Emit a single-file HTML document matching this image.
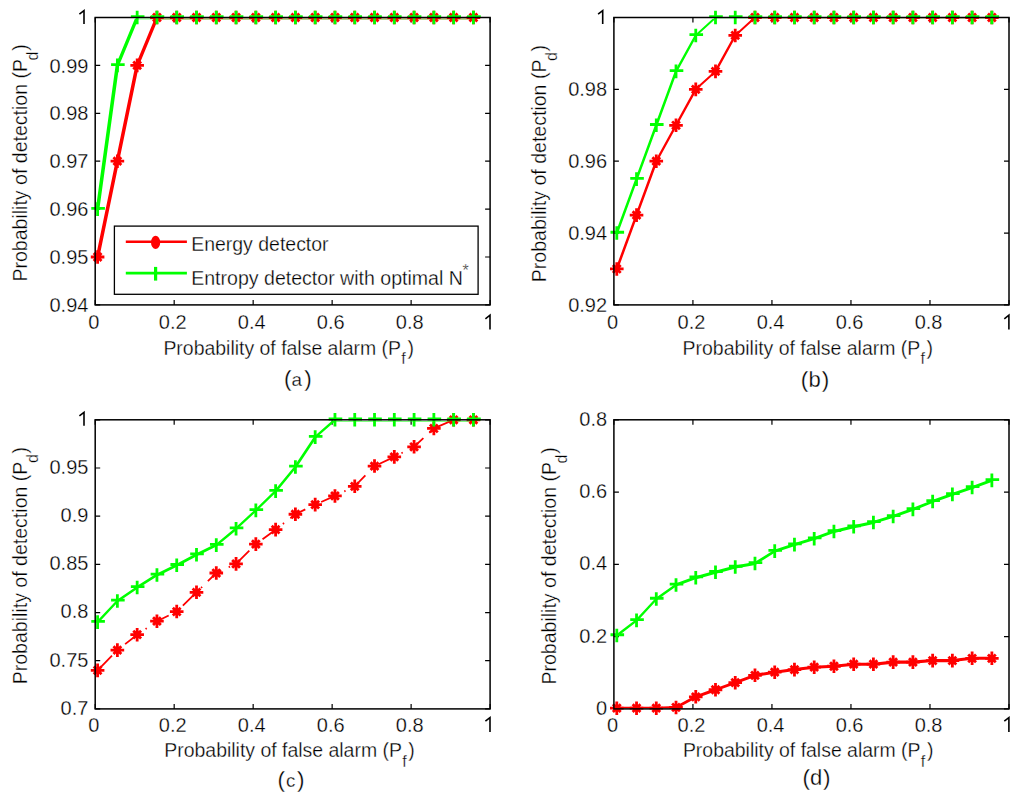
<!DOCTYPE html><html><head><meta charset="utf-8"><title>Detection curves</title>
<style>html,body{margin:0;padding:0;background:#fff;}svg{display:block;}text{font-family:"Liberation Sans",sans-serif;fill:#000;stroke:#fff;stroke-width:0.3px;}</style>
</head><body>
<svg width="1024" height="799" viewBox="0 0 1024 799">
<rect x="0" y="0" width="1024" height="799" fill="#fff"/>
<path d="M95.2 304.9v-5M95.2 17.5v5M174.18 304.9v-5M174.18 17.5v5M253.16 304.9v-5M253.16 17.5v5M332.14 304.9v-5M332.14 17.5v5M411.12 304.9v-5M411.12 17.5v5M490.1 304.9v-5M490.1 17.5v5M95.2 304.9h5M490.1 304.9h-5M95.2 257h5M490.1 257h-5M95.2 209.1h5M490.1 209.1h-5M95.2 161.2h5M490.1 161.2h-5M95.2 113.3h5M490.1 113.3h-5M95.2 65.4h5M490.1 65.4h-5M95.2 17.5h5M490.1 17.5h-5" stroke="#000000" stroke-width="1.2" fill="none"/>
<clipPath id="clipa"><rect x="95.95" y="18.8" width="393.4" height="285.35"/></clipPath>
<g clip-path="url(#clipa)">
<g stroke="#ff0000" stroke-linecap="round"><line x1="97.6" y1="257" x2="117.38" y2="161.2" stroke-width="3.53"/><line x1="117.38" y1="161.2" x2="137.16" y2="65.4" stroke-width="3.53"/><line x1="137.16" y1="65.4" x2="156.94" y2="17.5" stroke-width="3.33"/><line x1="156.94" y1="17.5" x2="176.72" y2="17.5" stroke-width="3.60"/><line x1="176.72" y1="17.5" x2="196.5" y2="17.5" stroke-width="3.60"/><line x1="196.5" y1="17.5" x2="216.28" y2="17.5" stroke-width="3.60"/><line x1="216.28" y1="17.5" x2="236.06" y2="17.5" stroke-width="3.60"/><line x1="236.06" y1="17.5" x2="255.84" y2="17.5" stroke-width="3.60"/><line x1="255.84" y1="17.5" x2="275.62" y2="17.5" stroke-width="3.60"/><line x1="275.62" y1="17.5" x2="295.4" y2="17.5" stroke-width="3.60"/><line x1="295.4" y1="17.5" x2="315.18" y2="17.5" stroke-width="3.60"/><line x1="315.18" y1="17.5" x2="334.96" y2="17.5" stroke-width="3.60"/><line x1="334.96" y1="17.5" x2="354.74" y2="17.5" stroke-width="3.60"/><line x1="354.74" y1="17.5" x2="374.52" y2="17.5" stroke-width="3.60"/><line x1="374.52" y1="17.5" x2="394.3" y2="17.5" stroke-width="3.60"/><line x1="394.3" y1="17.5" x2="414.08" y2="17.5" stroke-width="3.60"/><line x1="414.08" y1="17.5" x2="433.86" y2="17.5" stroke-width="3.60"/><line x1="433.86" y1="17.5" x2="453.64" y2="17.5" stroke-width="3.60"/><line x1="453.64" y1="17.5" x2="473.42" y2="17.5" stroke-width="3.60"/></g>
<g stroke="#00ff00" stroke-linecap="round"><line x1="97.6" y1="209.1" x2="117.38" y2="65.4" stroke-width="3.57"/><line x1="117.38" y1="65.4" x2="137.16" y2="17.5" stroke-width="3.33"/><line x1="137.16" y1="17.5" x2="156.94" y2="17.5" stroke-width="3.60"/><line x1="156.94" y1="17.5" x2="176.72" y2="17.5" stroke-width="3.60"/><line x1="176.72" y1="17.5" x2="196.5" y2="17.5" stroke-width="3.60"/><line x1="196.5" y1="17.5" x2="216.28" y2="17.5" stroke-width="3.60"/><line x1="216.28" y1="17.5" x2="236.06" y2="17.5" stroke-width="3.60"/><line x1="236.06" y1="17.5" x2="255.84" y2="17.5" stroke-width="3.60"/><line x1="255.84" y1="17.5" x2="275.62" y2="17.5" stroke-width="3.60"/><line x1="275.62" y1="17.5" x2="295.4" y2="17.5" stroke-width="3.60"/><line x1="295.4" y1="17.5" x2="315.18" y2="17.5" stroke-width="3.60"/><line x1="315.18" y1="17.5" x2="334.96" y2="17.5" stroke-width="3.60"/><line x1="334.96" y1="17.5" x2="354.74" y2="17.5" stroke-width="3.60"/><line x1="354.74" y1="17.5" x2="374.52" y2="17.5" stroke-width="3.60"/><line x1="374.52" y1="17.5" x2="394.3" y2="17.5" stroke-width="3.60"/><line x1="394.3" y1="17.5" x2="414.08" y2="17.5" stroke-width="3.60"/><line x1="414.08" y1="17.5" x2="433.86" y2="17.5" stroke-width="3.60"/><line x1="433.86" y1="17.5" x2="453.64" y2="17.5" stroke-width="3.60"/><line x1="453.64" y1="17.5" x2="473.42" y2="17.5" stroke-width="3.60"/></g>
</g>
<path d="M90.8 257H104.4M97.6 250.2V263.8M93.7 253.1L101.5 260.9M93.7 260.9L101.5 253.1" stroke="#ff0000" stroke-width="2.8" fill="none"/><rect x="94.8" y="254.2" width="5.6" height="5.6" fill="#ff0000"/>
<path d="M110.58 161.2H124.18M117.38 154.4V168M113.48 157.3L121.28 165.1M113.48 165.1L121.28 157.3" stroke="#ff0000" stroke-width="2.8" fill="none"/><rect x="114.58" y="158.4" width="5.6" height="5.6" fill="#ff0000"/>
<path d="M130.36 65.4H143.96M137.16 58.6V72.2M133.26 61.5L141.06 69.3M133.26 69.3L141.06 61.5" stroke="#ff0000" stroke-width="2.8" fill="none"/><rect x="134.36" y="62.6" width="5.6" height="5.6" fill="#ff0000"/>
<path d="M150.14 17.5H163.74M156.94 10.7V24.3M153.04 13.6L160.84 21.4M153.04 21.4L160.84 13.6" stroke="#ff0000" stroke-width="2.8" fill="none"/><rect x="154.14" y="14.7" width="5.6" height="5.6" fill="#ff0000"/>
<path d="M169.92 17.5H183.52M176.72 10.7V24.3M172.82 13.6L180.62 21.4M172.82 21.4L180.62 13.6" stroke="#ff0000" stroke-width="2.8" fill="none"/><rect x="173.92" y="14.7" width="5.6" height="5.6" fill="#ff0000"/>
<path d="M189.7 17.5H203.3M196.5 10.7V24.3M192.6 13.6L200.4 21.4M192.6 21.4L200.4 13.6" stroke="#ff0000" stroke-width="2.8" fill="none"/><rect x="193.7" y="14.7" width="5.6" height="5.6" fill="#ff0000"/>
<path d="M209.48 17.5H223.08M216.28 10.7V24.3M212.38 13.6L220.18 21.4M212.38 21.4L220.18 13.6" stroke="#ff0000" stroke-width="2.8" fill="none"/><rect x="213.48" y="14.7" width="5.6" height="5.6" fill="#ff0000"/>
<path d="M229.26 17.5H242.86M236.06 10.7V24.3M232.16 13.6L239.96 21.4M232.16 21.4L239.96 13.6" stroke="#ff0000" stroke-width="2.8" fill="none"/><rect x="233.26" y="14.7" width="5.6" height="5.6" fill="#ff0000"/>
<path d="M249.04 17.5H262.64M255.84 10.7V24.3M251.94 13.6L259.74 21.4M251.94 21.4L259.74 13.6" stroke="#ff0000" stroke-width="2.8" fill="none"/><rect x="253.04" y="14.7" width="5.6" height="5.6" fill="#ff0000"/>
<path d="M268.82 17.5H282.42M275.62 10.7V24.3M271.72 13.6L279.52 21.4M271.72 21.4L279.52 13.6" stroke="#ff0000" stroke-width="2.8" fill="none"/><rect x="272.82" y="14.7" width="5.6" height="5.6" fill="#ff0000"/>
<path d="M288.6 17.5H302.2M295.4 10.7V24.3M291.5 13.6L299.3 21.4M291.5 21.4L299.3 13.6" stroke="#ff0000" stroke-width="2.8" fill="none"/><rect x="292.6" y="14.7" width="5.6" height="5.6" fill="#ff0000"/>
<path d="M308.38 17.5H321.98M315.18 10.7V24.3M311.28 13.6L319.08 21.4M311.28 21.4L319.08 13.6" stroke="#ff0000" stroke-width="2.8" fill="none"/><rect x="312.38" y="14.7" width="5.6" height="5.6" fill="#ff0000"/>
<path d="M328.16 17.5H341.76M334.96 10.7V24.3M331.06 13.6L338.86 21.4M331.06 21.4L338.86 13.6" stroke="#ff0000" stroke-width="2.8" fill="none"/><rect x="332.16" y="14.7" width="5.6" height="5.6" fill="#ff0000"/>
<path d="M347.94 17.5H361.54M354.74 10.7V24.3M350.84 13.6L358.64 21.4M350.84 21.4L358.64 13.6" stroke="#ff0000" stroke-width="2.8" fill="none"/><rect x="351.94" y="14.7" width="5.6" height="5.6" fill="#ff0000"/>
<path d="M367.72 17.5H381.32M374.52 10.7V24.3M370.62 13.6L378.42 21.4M370.62 21.4L378.42 13.6" stroke="#ff0000" stroke-width="2.8" fill="none"/><rect x="371.72" y="14.7" width="5.6" height="5.6" fill="#ff0000"/>
<path d="M387.5 17.5H401.1M394.3 10.7V24.3M390.4 13.6L398.2 21.4M390.4 21.4L398.2 13.6" stroke="#ff0000" stroke-width="2.8" fill="none"/><rect x="391.5" y="14.7" width="5.6" height="5.6" fill="#ff0000"/>
<path d="M407.28 17.5H420.88M414.08 10.7V24.3M410.18 13.6L417.98 21.4M410.18 21.4L417.98 13.6" stroke="#ff0000" stroke-width="2.8" fill="none"/><rect x="411.28" y="14.7" width="5.6" height="5.6" fill="#ff0000"/>
<path d="M427.06 17.5H440.66M433.86 10.7V24.3M429.96 13.6L437.76 21.4M429.96 21.4L437.76 13.6" stroke="#ff0000" stroke-width="2.8" fill="none"/><rect x="431.06" y="14.7" width="5.6" height="5.6" fill="#ff0000"/>
<path d="M446.84 17.5H460.44M453.64 10.7V24.3M449.74 13.6L457.54 21.4M449.74 21.4L457.54 13.6" stroke="#ff0000" stroke-width="2.8" fill="none"/><rect x="450.84" y="14.7" width="5.6" height="5.6" fill="#ff0000"/>
<path d="M466.62 17.5H480.22M473.42 10.7V24.3M469.52 13.6L477.32 21.4M469.52 21.4L477.32 13.6" stroke="#ff0000" stroke-width="2.8" fill="none"/><rect x="470.62" y="14.7" width="5.6" height="5.6" fill="#ff0000"/>
<path d="M91.3 208.3H104.9M97.6 202.3V215.9" stroke="#00ff00" stroke-width="2.8" fill="none"/>
<path d="M111.08 64.6H124.68M117.38 58.6V72.2" stroke="#00ff00" stroke-width="2.8" fill="none"/>
<path d="M130.86 16.7H144.46M137.16 10.7V24.3" stroke="#00ff00" stroke-width="2.8" fill="none"/>
<path d="M150.64 16.7H164.24M156.94 10.7V24.3" stroke="#00ff00" stroke-width="2.8" fill="none"/>
<path d="M170.42 16.7H184.02M176.72 10.7V24.3" stroke="#00ff00" stroke-width="2.8" fill="none"/>
<path d="M190.2 16.7H203.8M196.5 10.7V24.3" stroke="#00ff00" stroke-width="2.8" fill="none"/>
<path d="M209.98 16.7H223.58M216.28 10.7V24.3" stroke="#00ff00" stroke-width="2.8" fill="none"/>
<path d="M229.76 16.7H243.36M236.06 10.7V24.3" stroke="#00ff00" stroke-width="2.8" fill="none"/>
<path d="M249.54 16.7H263.14M255.84 10.7V24.3" stroke="#00ff00" stroke-width="2.8" fill="none"/>
<path d="M269.32 16.7H282.92M275.62 10.7V24.3" stroke="#00ff00" stroke-width="2.8" fill="none"/>
<path d="M289.1 16.7H302.7M295.4 10.7V24.3" stroke="#00ff00" stroke-width="2.8" fill="none"/>
<path d="M308.88 16.7H322.48M315.18 10.7V24.3" stroke="#00ff00" stroke-width="2.8" fill="none"/>
<path d="M328.66 16.7H342.26M334.96 10.7V24.3" stroke="#00ff00" stroke-width="2.8" fill="none"/>
<path d="M348.44 16.7H362.04M354.74 10.7V24.3" stroke="#00ff00" stroke-width="2.8" fill="none"/>
<path d="M368.22 16.7H381.82M374.52 10.7V24.3" stroke="#00ff00" stroke-width="2.8" fill="none"/>
<path d="M388 16.7H401.6M394.3 10.7V24.3" stroke="#00ff00" stroke-width="2.8" fill="none"/>
<path d="M407.78 16.7H421.38M414.08 10.7V24.3" stroke="#00ff00" stroke-width="2.8" fill="none"/>
<path d="M427.56 16.7H441.16M433.86 10.7V24.3" stroke="#00ff00" stroke-width="2.8" fill="none"/>
<path d="M447.34 16.7H460.94M453.64 10.7V24.3" stroke="#00ff00" stroke-width="2.8" fill="none"/>
<path d="M467.12 16.7H480.72M473.42 10.7V24.3" stroke="#00ff00" stroke-width="2.8" fill="none"/>
<rect x="95.2" y="17.5" width="394.9" height="287.4" fill="none" stroke="#000000" stroke-width="1.5"/>
<text x="88.4" y="312" font-size="20" text-anchor="end">0.94</text>
<text x="88.4" y="264.1" font-size="20" text-anchor="end">0.95</text>
<text x="88.4" y="216.2" font-size="20" text-anchor="end">0.96</text>
<text x="88.4" y="168.3" font-size="20" text-anchor="end">0.97</text>
<text x="88.4" y="120.4" font-size="20" text-anchor="end">0.98</text>
<text x="88.4" y="72.5" font-size="20" text-anchor="end">0.99</text>
<path d="M84 24V10.6L79.4 14.2" stroke="#000" stroke-width="1.6" fill="none" stroke-linejoin="miter"/>
<text x="93.8" y="329.3" font-size="20" text-anchor="middle">0</text>
<text x="172.78" y="329.3" font-size="20" text-anchor="middle">0.2</text>
<text x="251.76" y="329.3" font-size="20" text-anchor="middle">0.4</text>
<text x="330.74" y="329.3" font-size="20" text-anchor="middle">0.6</text>
<text x="409.72" y="329.3" font-size="20" text-anchor="middle">0.8</text>
<path d="M490 329.6V315.2L485.4 318.8" stroke="#000" stroke-width="1.6" fill="none" stroke-linejoin="miter"/>
<path d="M613.9 304.9v-5M613.9 17.5v5M692.92 304.9v-5M692.92 17.5v5M771.94 304.9v-5M771.94 17.5v5M850.96 304.9v-5M850.96 17.5v5M929.98 304.9v-5M929.98 17.5v5M1009 304.9v-5M1009 17.5v5M613.9 304.9h5M1009 304.9h-5M613.9 233.05h5M1009 233.05h-5M613.9 161.2h5M1009 161.2h-5M613.9 89.35h5M1009 89.35h-5M613.9 17.5h5M1009 17.5h-5" stroke="#000000" stroke-width="1.2" fill="none"/>
<clipPath id="clipb"><rect x="614.65" y="18.8" width="393.6" height="285.35"/></clipPath>
<g clip-path="url(#clipb)">
<g stroke="#ff0000" stroke-linecap="round"><line x1="616.8" y1="268.97" x2="636.54" y2="215.09" stroke-width="2.54"/><line x1="636.54" y1="215.09" x2="656.28" y2="161.2" stroke-width="2.54"/><line x1="656.28" y1="161.2" x2="676.02" y2="125.28" stroke-width="2.37"/><line x1="676.02" y1="125.28" x2="695.76" y2="89.35" stroke-width="2.37"/><line x1="695.76" y1="89.35" x2="715.5" y2="71.39" stroke-width="2.00"/><line x1="715.5" y1="71.39" x2="735.24" y2="35.46" stroke-width="2.37"/><line x1="735.24" y1="35.46" x2="754.98" y2="17.5" stroke-width="2.00"/><line x1="754.98" y1="17.5" x2="774.72" y2="17.5" stroke-width="2.70"/><line x1="774.72" y1="17.5" x2="794.46" y2="17.5" stroke-width="2.70"/><line x1="794.46" y1="17.5" x2="814.2" y2="17.5" stroke-width="2.70"/><line x1="814.2" y1="17.5" x2="833.94" y2="17.5" stroke-width="2.70"/><line x1="833.94" y1="17.5" x2="853.68" y2="17.5" stroke-width="2.70"/><line x1="853.68" y1="17.5" x2="873.42" y2="17.5" stroke-width="2.70"/><line x1="873.42" y1="17.5" x2="893.16" y2="17.5" stroke-width="2.70"/><line x1="893.16" y1="17.5" x2="912.9" y2="17.5" stroke-width="2.70"/><line x1="912.9" y1="17.5" x2="932.64" y2="17.5" stroke-width="2.70"/><line x1="932.64" y1="17.5" x2="952.38" y2="17.5" stroke-width="2.70"/><line x1="952.38" y1="17.5" x2="972.12" y2="17.5" stroke-width="2.70"/><line x1="972.12" y1="17.5" x2="991.86" y2="17.5" stroke-width="2.70"/></g>
<g stroke="#00ff00" stroke-linecap="round"><line x1="616.8" y1="233.05" x2="636.54" y2="179.16" stroke-width="2.54"/><line x1="636.54" y1="179.16" x2="656.28" y2="125.28" stroke-width="2.54"/><line x1="656.28" y1="125.28" x2="676.02" y2="71.39" stroke-width="2.54"/><line x1="676.02" y1="71.39" x2="695.76" y2="35.46" stroke-width="2.37"/><line x1="695.76" y1="35.46" x2="715.5" y2="17.5" stroke-width="2.00"/><line x1="715.5" y1="17.5" x2="735.24" y2="17.5" stroke-width="2.70"/><line x1="735.24" y1="17.5" x2="754.98" y2="17.5" stroke-width="2.70"/><line x1="754.98" y1="17.5" x2="774.72" y2="17.5" stroke-width="2.70"/><line x1="774.72" y1="17.5" x2="794.46" y2="17.5" stroke-width="2.70"/><line x1="794.46" y1="17.5" x2="814.2" y2="17.5" stroke-width="2.70"/><line x1="814.2" y1="17.5" x2="833.94" y2="17.5" stroke-width="2.70"/><line x1="833.94" y1="17.5" x2="853.68" y2="17.5" stroke-width="2.70"/><line x1="853.68" y1="17.5" x2="873.42" y2="17.5" stroke-width="2.70"/><line x1="873.42" y1="17.5" x2="893.16" y2="17.5" stroke-width="2.70"/><line x1="893.16" y1="17.5" x2="912.9" y2="17.5" stroke-width="2.70"/><line x1="912.9" y1="17.5" x2="932.64" y2="17.5" stroke-width="2.70"/><line x1="932.64" y1="17.5" x2="952.38" y2="17.5" stroke-width="2.70"/><line x1="952.38" y1="17.5" x2="972.12" y2="17.5" stroke-width="2.70"/><line x1="972.12" y1="17.5" x2="991.86" y2="17.5" stroke-width="2.70"/></g>
</g>
<path d="M610 268.97H623.6M616.8 262.17V275.77M612.9 265.07L620.7 272.87M612.9 272.87L620.7 265.07" stroke="#ff0000" stroke-width="2.8" fill="none"/><rect x="614" y="266.17" width="5.6" height="5.6" fill="#ff0000"/>
<path d="M629.74 215.09H643.34M636.54 208.29V221.89M632.64 211.19L640.44 218.99M632.64 218.99L640.44 211.19" stroke="#ff0000" stroke-width="2.8" fill="none"/><rect x="633.74" y="212.29" width="5.6" height="5.6" fill="#ff0000"/>
<path d="M649.48 161.2H663.08M656.28 154.4V168M652.38 157.3L660.18 165.1M652.38 165.1L660.18 157.3" stroke="#ff0000" stroke-width="2.8" fill="none"/><rect x="653.48" y="158.4" width="5.6" height="5.6" fill="#ff0000"/>
<path d="M669.22 125.28H682.82M676.02 118.48V132.08M672.12 121.38L679.92 129.18M672.12 129.18L679.92 121.38" stroke="#ff0000" stroke-width="2.8" fill="none"/><rect x="673.22" y="122.48" width="5.6" height="5.6" fill="#ff0000"/>
<path d="M688.96 89.35H702.56M695.76 82.55V96.15M691.86 85.45L699.66 93.25M691.86 93.25L699.66 85.45" stroke="#ff0000" stroke-width="2.8" fill="none"/><rect x="692.96" y="86.55" width="5.6" height="5.6" fill="#ff0000"/>
<path d="M708.7 71.39H722.3M715.5 64.59V78.19M711.6 67.49L719.4 75.29M711.6 75.29L719.4 67.49" stroke="#ff0000" stroke-width="2.8" fill="none"/><rect x="712.7" y="68.59" width="5.6" height="5.6" fill="#ff0000"/>
<path d="M728.44 35.46H742.04M735.24 28.66V42.26M731.34 31.56L739.14 39.36M731.34 39.36L739.14 31.56" stroke="#ff0000" stroke-width="2.8" fill="none"/><rect x="732.44" y="32.66" width="5.6" height="5.6" fill="#ff0000"/>
<path d="M748.18 17.5H761.78M754.98 10.7V24.3M751.08 13.6L758.88 21.4M751.08 21.4L758.88 13.6" stroke="#ff0000" stroke-width="2.8" fill="none"/><rect x="752.18" y="14.7" width="5.6" height="5.6" fill="#ff0000"/>
<path d="M767.92 17.5H781.52M774.72 10.7V24.3M770.82 13.6L778.62 21.4M770.82 21.4L778.62 13.6" stroke="#ff0000" stroke-width="2.8" fill="none"/><rect x="771.92" y="14.7" width="5.6" height="5.6" fill="#ff0000"/>
<path d="M787.66 17.5H801.26M794.46 10.7V24.3M790.56 13.6L798.36 21.4M790.56 21.4L798.36 13.6" stroke="#ff0000" stroke-width="2.8" fill="none"/><rect x="791.66" y="14.7" width="5.6" height="5.6" fill="#ff0000"/>
<path d="M807.4 17.5H821M814.2 10.7V24.3M810.3 13.6L818.1 21.4M810.3 21.4L818.1 13.6" stroke="#ff0000" stroke-width="2.8" fill="none"/><rect x="811.4" y="14.7" width="5.6" height="5.6" fill="#ff0000"/>
<path d="M827.14 17.5H840.74M833.94 10.7V24.3M830.04 13.6L837.84 21.4M830.04 21.4L837.84 13.6" stroke="#ff0000" stroke-width="2.8" fill="none"/><rect x="831.14" y="14.7" width="5.6" height="5.6" fill="#ff0000"/>
<path d="M846.88 17.5H860.48M853.68 10.7V24.3M849.78 13.6L857.58 21.4M849.78 21.4L857.58 13.6" stroke="#ff0000" stroke-width="2.8" fill="none"/><rect x="850.88" y="14.7" width="5.6" height="5.6" fill="#ff0000"/>
<path d="M866.62 17.5H880.22M873.42 10.7V24.3M869.52 13.6L877.32 21.4M869.52 21.4L877.32 13.6" stroke="#ff0000" stroke-width="2.8" fill="none"/><rect x="870.62" y="14.7" width="5.6" height="5.6" fill="#ff0000"/>
<path d="M886.36 17.5H899.96M893.16 10.7V24.3M889.26 13.6L897.06 21.4M889.26 21.4L897.06 13.6" stroke="#ff0000" stroke-width="2.8" fill="none"/><rect x="890.36" y="14.7" width="5.6" height="5.6" fill="#ff0000"/>
<path d="M906.1 17.5H919.7M912.9 10.7V24.3M909 13.6L916.8 21.4M909 21.4L916.8 13.6" stroke="#ff0000" stroke-width="2.8" fill="none"/><rect x="910.1" y="14.7" width="5.6" height="5.6" fill="#ff0000"/>
<path d="M925.84 17.5H939.44M932.64 10.7V24.3M928.74 13.6L936.54 21.4M928.74 21.4L936.54 13.6" stroke="#ff0000" stroke-width="2.8" fill="none"/><rect x="929.84" y="14.7" width="5.6" height="5.6" fill="#ff0000"/>
<path d="M945.58 17.5H959.18M952.38 10.7V24.3M948.48 13.6L956.28 21.4M948.48 21.4L956.28 13.6" stroke="#ff0000" stroke-width="2.8" fill="none"/><rect x="949.58" y="14.7" width="5.6" height="5.6" fill="#ff0000"/>
<path d="M965.32 17.5H978.92M972.12 10.7V24.3M968.22 13.6L976.02 21.4M968.22 21.4L976.02 13.6" stroke="#ff0000" stroke-width="2.8" fill="none"/><rect x="969.32" y="14.7" width="5.6" height="5.6" fill="#ff0000"/>
<path d="M985.06 17.5H998.66M991.86 10.7V24.3M987.96 13.6L995.76 21.4M987.96 21.4L995.76 13.6" stroke="#ff0000" stroke-width="2.8" fill="none"/><rect x="989.06" y="14.7" width="5.6" height="5.6" fill="#ff0000"/>
<path d="M610.5 232.25H624.1M616.8 226.25V239.85" stroke="#00ff00" stroke-width="2.8" fill="none"/>
<path d="M630.24 178.36H643.84M636.54 172.36V185.96" stroke="#00ff00" stroke-width="2.8" fill="none"/>
<path d="M649.98 124.48H663.58M656.28 118.48V132.08" stroke="#00ff00" stroke-width="2.8" fill="none"/>
<path d="M669.72 70.59H683.32M676.02 64.59V78.19" stroke="#00ff00" stroke-width="2.8" fill="none"/>
<path d="M689.46 34.66H703.06M695.76 28.66V42.26" stroke="#00ff00" stroke-width="2.8" fill="none"/>
<path d="M709.2 16.7H722.8M715.5 10.7V24.3" stroke="#00ff00" stroke-width="2.8" fill="none"/>
<path d="M728.94 16.7H742.54M735.24 10.7V24.3" stroke="#00ff00" stroke-width="2.8" fill="none"/>
<path d="M748.68 16.7H762.28M754.98 10.7V24.3" stroke="#00ff00" stroke-width="2.8" fill="none"/>
<path d="M768.42 16.7H782.02M774.72 10.7V24.3" stroke="#00ff00" stroke-width="2.8" fill="none"/>
<path d="M788.16 16.7H801.76M794.46 10.7V24.3" stroke="#00ff00" stroke-width="2.8" fill="none"/>
<path d="M807.9 16.7H821.5M814.2 10.7V24.3" stroke="#00ff00" stroke-width="2.8" fill="none"/>
<path d="M827.64 16.7H841.24M833.94 10.7V24.3" stroke="#00ff00" stroke-width="2.8" fill="none"/>
<path d="M847.38 16.7H860.98M853.68 10.7V24.3" stroke="#00ff00" stroke-width="2.8" fill="none"/>
<path d="M867.12 16.7H880.72M873.42 10.7V24.3" stroke="#00ff00" stroke-width="2.8" fill="none"/>
<path d="M886.86 16.7H900.46M893.16 10.7V24.3" stroke="#00ff00" stroke-width="2.8" fill="none"/>
<path d="M906.6 16.7H920.2M912.9 10.7V24.3" stroke="#00ff00" stroke-width="2.8" fill="none"/>
<path d="M926.34 16.7H939.94M932.64 10.7V24.3" stroke="#00ff00" stroke-width="2.8" fill="none"/>
<path d="M946.08 16.7H959.68M952.38 10.7V24.3" stroke="#00ff00" stroke-width="2.8" fill="none"/>
<path d="M965.82 16.7H979.42M972.12 10.7V24.3" stroke="#00ff00" stroke-width="2.8" fill="none"/>
<path d="M985.56 16.7H999.16M991.86 10.7V24.3" stroke="#00ff00" stroke-width="2.8" fill="none"/>
<rect x="613.9" y="17.5" width="395.1" height="287.4" fill="none" stroke="#000000" stroke-width="1.5"/>
<text x="607.1" y="312" font-size="20" text-anchor="end">0.92</text>
<text x="607.1" y="240.15" font-size="20" text-anchor="end">0.94</text>
<text x="607.1" y="168.3" font-size="20" text-anchor="end">0.96</text>
<text x="607.1" y="96.45" font-size="20" text-anchor="end">0.98</text>
<path d="M602.7 24V10.6L598.1 14.2" stroke="#000" stroke-width="1.6" fill="none" stroke-linejoin="miter"/>
<text x="612.5" y="329.3" font-size="20" text-anchor="middle">0</text>
<text x="691.52" y="329.3" font-size="20" text-anchor="middle">0.2</text>
<text x="770.54" y="329.3" font-size="20" text-anchor="middle">0.4</text>
<text x="849.56" y="329.3" font-size="20" text-anchor="middle">0.6</text>
<text x="928.58" y="329.3" font-size="20" text-anchor="middle">0.8</text>
<path d="M1008.9 329.6V315.2L1004.3 318.8" stroke="#000" stroke-width="1.6" fill="none" stroke-linejoin="miter"/>
<path d="M95.2 708.9v-5M95.2 419.8v5M174.18 708.9v-5M174.18 419.8v5M253.16 708.9v-5M253.16 419.8v5M332.14 708.9v-5M332.14 419.8v5M411.12 708.9v-5M411.12 419.8v5M490.1 708.9v-5M490.1 419.8v5M95.2 708.9h5M490.1 708.9h-5M95.2 660.72h5M490.1 660.72h-5M95.2 612.53h5M490.1 612.53h-5M95.2 564.35h5M490.1 564.35h-5M95.2 516.17h5M490.1 516.17h-5M95.2 467.98h5M490.1 467.98h-5M95.2 419.8h5M490.1 419.8h-5" stroke="#000000" stroke-width="1.2" fill="none"/>
<clipPath id="clipc"><rect x="95.95" y="421.1" width="393.4" height="287.05"/></clipPath>
<g clip-path="url(#clipc)">
<polyline points="97.6,670.35 117.38,650.12 137.16,634.7 156.94,621.21 176.72,611.57 196.5,592.3 216.28,573.02 236.06,563.87 255.84,544.11 275.62,529.66 295.4,514.24 315.18,504.6 334.96,495.93 354.74,486.29 374.52,466.06 394.3,456.9 414.08,446.78 433.86,428.47 453.64,419.8 473.42,419.8" stroke="#ff0000" stroke-width="1.8" fill="none" stroke-dasharray="17.4 8 1.5 8" stroke-dashoffset="31.7"/>
<g stroke="#00ff00" stroke-linecap="round"><line x1="97.6" y1="622.17" x2="117.38" y2="600.97" stroke-width="2.34"/><line x1="117.38" y1="600.97" x2="137.16" y2="587.48" stroke-width="2.64"/><line x1="137.16" y1="587.48" x2="156.94" y2="574.95" stroke-width="2.70"/><line x1="156.94" y1="574.95" x2="176.72" y2="565.31" stroke-width="2.88"/><line x1="176.72" y1="565.31" x2="196.5" y2="554.71" stroke-width="2.82"/><line x1="196.5" y1="554.71" x2="216.28" y2="545.08" stroke-width="2.88"/><line x1="216.28" y1="545.08" x2="236.06" y2="528.69" stroke-width="2.46"/><line x1="236.06" y1="528.69" x2="255.84" y2="510.38" stroke-width="2.35"/><line x1="255.84" y1="510.38" x2="275.62" y2="491.11" stroke-width="2.29"/><line x1="275.62" y1="491.11" x2="295.4" y2="467.02" stroke-width="2.47"/><line x1="295.4" y1="467.02" x2="315.18" y2="437.15" stroke-width="2.67"/><line x1="315.18" y1="437.15" x2="334.96" y2="419.8" stroke-width="2.41"/><line x1="334.96" y1="419.8" x2="354.74" y2="419.8" stroke-width="3.20"/><line x1="354.74" y1="419.8" x2="374.52" y2="419.8" stroke-width="3.20"/><line x1="374.52" y1="419.8" x2="394.3" y2="419.8" stroke-width="3.20"/><line x1="394.3" y1="419.8" x2="414.08" y2="419.8" stroke-width="3.20"/><line x1="414.08" y1="419.8" x2="433.86" y2="419.8" stroke-width="3.20"/><line x1="433.86" y1="419.8" x2="453.64" y2="419.8" stroke-width="3.20"/><line x1="453.64" y1="419.8" x2="473.42" y2="419.8" stroke-width="3.20"/></g>
</g>
<path d="M90.8 670.35H104.4M97.6 663.55V677.15M93.7 666.45L101.5 674.25M93.7 674.25L101.5 666.45" stroke="#ff0000" stroke-width="2.8" fill="none"/><rect x="94.8" y="667.55" width="5.6" height="5.6" fill="#ff0000"/>
<path d="M110.58 650.12H124.18M117.38 643.32V656.92M113.48 646.22L121.28 654.02M113.48 654.02L121.28 646.22" stroke="#ff0000" stroke-width="2.8" fill="none"/><rect x="114.58" y="647.32" width="5.6" height="5.6" fill="#ff0000"/>
<path d="M130.36 634.7H143.96M137.16 627.9V641.5M133.26 630.8L141.06 638.6M133.26 638.6L141.06 630.8" stroke="#ff0000" stroke-width="2.8" fill="none"/><rect x="134.36" y="631.9" width="5.6" height="5.6" fill="#ff0000"/>
<path d="M150.14 621.21H163.74M156.94 614.41V628.01M153.04 617.31L160.84 625.11M153.04 625.11L160.84 617.31" stroke="#ff0000" stroke-width="2.8" fill="none"/><rect x="154.14" y="618.41" width="5.6" height="5.6" fill="#ff0000"/>
<path d="M169.92 611.57H183.52M176.72 604.77V618.37M172.82 607.67L180.62 615.47M172.82 615.47L180.62 607.67" stroke="#ff0000" stroke-width="2.8" fill="none"/><rect x="173.92" y="608.77" width="5.6" height="5.6" fill="#ff0000"/>
<path d="M189.7 592.3H203.3M196.5 585.5V599.1M192.6 588.4L200.4 596.2M192.6 596.2L200.4 588.4" stroke="#ff0000" stroke-width="2.8" fill="none"/><rect x="193.7" y="589.5" width="5.6" height="5.6" fill="#ff0000"/>
<path d="M209.48 573.02H223.08M216.28 566.22V579.82M212.38 569.12L220.18 576.92M212.38 576.92L220.18 569.12" stroke="#ff0000" stroke-width="2.8" fill="none"/><rect x="213.48" y="570.22" width="5.6" height="5.6" fill="#ff0000"/>
<path d="M229.26 563.87H242.86M236.06 557.07V570.67M232.16 559.97L239.96 567.77M232.16 567.77L239.96 559.97" stroke="#ff0000" stroke-width="2.8" fill="none"/><rect x="233.26" y="561.07" width="5.6" height="5.6" fill="#ff0000"/>
<path d="M249.04 544.11H262.64M255.84 537.31V550.91M251.94 540.21L259.74 548.01M251.94 548.01L259.74 540.21" stroke="#ff0000" stroke-width="2.8" fill="none"/><rect x="253.04" y="541.31" width="5.6" height="5.6" fill="#ff0000"/>
<path d="M268.82 529.66H282.42M275.62 522.86V536.46M271.72 525.76L279.52 533.56M271.72 533.56L279.52 525.76" stroke="#ff0000" stroke-width="2.8" fill="none"/><rect x="272.82" y="526.86" width="5.6" height="5.6" fill="#ff0000"/>
<path d="M288.6 514.24H302.2M295.4 507.44V521.04M291.5 510.34L299.3 518.14M291.5 518.14L299.3 510.34" stroke="#ff0000" stroke-width="2.8" fill="none"/><rect x="292.6" y="511.44" width="5.6" height="5.6" fill="#ff0000"/>
<path d="M308.38 504.6H321.98M315.18 497.8V511.4M311.28 500.7L319.08 508.5M311.28 508.5L319.08 500.7" stroke="#ff0000" stroke-width="2.8" fill="none"/><rect x="312.38" y="501.8" width="5.6" height="5.6" fill="#ff0000"/>
<path d="M328.16 495.93H341.76M334.96 489.13V502.73M331.06 492.03L338.86 499.83M331.06 499.83L338.86 492.03" stroke="#ff0000" stroke-width="2.8" fill="none"/><rect x="332.16" y="493.13" width="5.6" height="5.6" fill="#ff0000"/>
<path d="M347.94 486.29H361.54M354.74 479.49V493.09M350.84 482.39L358.64 490.19M350.84 490.19L358.64 482.39" stroke="#ff0000" stroke-width="2.8" fill="none"/><rect x="351.94" y="483.49" width="5.6" height="5.6" fill="#ff0000"/>
<path d="M367.72 466.06H381.32M374.52 459.26V472.86M370.62 462.16L378.42 469.96M370.62 469.96L378.42 462.16" stroke="#ff0000" stroke-width="2.8" fill="none"/><rect x="371.72" y="463.26" width="5.6" height="5.6" fill="#ff0000"/>
<path d="M387.5 456.9H401.1M394.3 450.1V463.7M390.4 453L398.2 460.8M390.4 460.8L398.2 453" stroke="#ff0000" stroke-width="2.8" fill="none"/><rect x="391.5" y="454.1" width="5.6" height="5.6" fill="#ff0000"/>
<path d="M407.28 446.78H420.88M414.08 439.98V453.58M410.18 442.88L417.98 450.68M410.18 450.68L417.98 442.88" stroke="#ff0000" stroke-width="2.8" fill="none"/><rect x="411.28" y="443.98" width="5.6" height="5.6" fill="#ff0000"/>
<path d="M427.06 428.47H440.66M433.86 421.67V435.27M429.96 424.57L437.76 432.37M429.96 432.37L437.76 424.57" stroke="#ff0000" stroke-width="2.8" fill="none"/><rect x="431.06" y="425.67" width="5.6" height="5.6" fill="#ff0000"/>
<path d="M446.84 419.8H460.44M453.64 413V426.6M449.74 415.9L457.54 423.7M449.74 423.7L457.54 415.9" stroke="#ff0000" stroke-width="2.8" fill="none"/><rect x="450.84" y="417" width="5.6" height="5.6" fill="#ff0000"/>
<path d="M466.62 419.8H480.22M473.42 413V426.6M469.52 415.9L477.32 423.7M469.52 423.7L477.32 415.9" stroke="#ff0000" stroke-width="2.8" fill="none"/><rect x="470.62" y="417" width="5.6" height="5.6" fill="#ff0000"/>
<path d="M91.3 621.37H104.9M97.6 615.37V628.97" stroke="#00ff00" stroke-width="2.8" fill="none"/>
<path d="M111.08 600.17H124.68M117.38 594.17V607.77" stroke="#00ff00" stroke-width="2.8" fill="none"/>
<path d="M130.86 586.68H144.46M137.16 580.68V594.28" stroke="#00ff00" stroke-width="2.8" fill="none"/>
<path d="M150.64 574.15H164.24M156.94 568.15V581.75" stroke="#00ff00" stroke-width="2.8" fill="none"/>
<path d="M170.42 564.51H184.02M176.72 558.51V572.11" stroke="#00ff00" stroke-width="2.8" fill="none"/>
<path d="M190.2 553.91H203.8M196.5 547.91V561.51" stroke="#00ff00" stroke-width="2.8" fill="none"/>
<path d="M209.98 544.28H223.58M216.28 538.28V551.88" stroke="#00ff00" stroke-width="2.8" fill="none"/>
<path d="M229.76 527.89H243.36M236.06 521.89V535.49" stroke="#00ff00" stroke-width="2.8" fill="none"/>
<path d="M249.54 509.58H263.14M255.84 503.58V517.18" stroke="#00ff00" stroke-width="2.8" fill="none"/>
<path d="M269.32 490.31H282.92M275.62 484.31V497.91" stroke="#00ff00" stroke-width="2.8" fill="none"/>
<path d="M289.1 466.22H302.7M295.4 460.22V473.82" stroke="#00ff00" stroke-width="2.8" fill="none"/>
<path d="M308.88 436.35H322.48M315.18 430.35V443.95" stroke="#00ff00" stroke-width="2.8" fill="none"/>
<path d="M328.66 419H342.26M334.96 413V426.6" stroke="#00ff00" stroke-width="2.8" fill="none"/>
<path d="M348.44 419H362.04M354.74 413V426.6" stroke="#00ff00" stroke-width="2.8" fill="none"/>
<path d="M368.22 419H381.82M374.52 413V426.6" stroke="#00ff00" stroke-width="2.8" fill="none"/>
<path d="M388 419H401.6M394.3 413V426.6" stroke="#00ff00" stroke-width="2.8" fill="none"/>
<path d="M407.78 419H421.38M414.08 413V426.6" stroke="#00ff00" stroke-width="2.8" fill="none"/>
<path d="M427.56 419H441.16M433.86 413V426.6" stroke="#00ff00" stroke-width="2.8" fill="none"/>
<path d="M447.34 419H460.94M453.64 413V426.6" stroke="#00ff00" stroke-width="2.8" fill="none"/>
<path d="M467.12 419H480.72M473.42 413V426.6" stroke="#00ff00" stroke-width="2.8" fill="none"/>
<rect x="95.2" y="419.8" width="394.9" height="289.1" fill="none" stroke="#000000" stroke-width="1.5"/>
<text x="88.4" y="714.8" font-size="20" text-anchor="end">0.7</text>
<text x="88.4" y="666.62" font-size="20" text-anchor="end">0.75</text>
<text x="88.4" y="618.43" font-size="20" text-anchor="end">0.8</text>
<text x="88.4" y="570.25" font-size="20" text-anchor="end">0.85</text>
<text x="88.4" y="522.07" font-size="20" text-anchor="end">0.9</text>
<text x="88.4" y="473.88" font-size="20" text-anchor="end">0.95</text>
<path d="M84 425.7V412.3L79.4 415.9" stroke="#000" stroke-width="1.6" fill="none" stroke-linejoin="miter"/>
<text x="93.8" y="731.7" font-size="20" text-anchor="middle">0</text>
<text x="172.78" y="731.7" font-size="20" text-anchor="middle">0.2</text>
<text x="251.76" y="731.7" font-size="20" text-anchor="middle">0.4</text>
<text x="330.74" y="731.7" font-size="20" text-anchor="middle">0.6</text>
<text x="409.72" y="731.7" font-size="20" text-anchor="middle">0.8</text>
<path d="M490 732V717.6L485.4 721.2" stroke="#000" stroke-width="1.6" fill="none" stroke-linejoin="miter"/>
<path d="M613.9 708.9v-5M613.9 419.8v5M692.92 708.9v-5M692.92 419.8v5M771.94 708.9v-5M771.94 419.8v5M850.96 708.9v-5M850.96 419.8v5M929.98 708.9v-5M929.98 419.8v5M1009 708.9v-5M1009 419.8v5M613.9 708.9h5M1009 708.9h-5M613.9 636.62h5M1009 636.62h-5M613.9 564.35h5M1009 564.35h-5M613.9 492.08h5M1009 492.08h-5M613.9 419.8h5M1009 419.8h-5" stroke="#000000" stroke-width="1.2" fill="none"/>
<clipPath id="clipd"><rect x="614.65" y="421.1" width="393.6" height="287.05"/></clipPath>
<g clip-path="url(#clipd)">
<g stroke="#ff0000" stroke-linecap="round"><line x1="616.8" y1="708.18" x2="636.54" y2="708.18" stroke-width="3.10"/><line x1="636.54" y1="708.18" x2="656.28" y2="708.18" stroke-width="3.10"/><line x1="656.28" y1="708.18" x2="676.02" y2="707.45" stroke-width="3.10"/><line x1="676.02" y1="707.45" x2="695.76" y2="696.79" stroke-width="2.73"/><line x1="695.76" y1="696.79" x2="715.5" y2="689.75" stroke-width="2.92"/><line x1="715.5" y1="689.75" x2="735.24" y2="682.7" stroke-width="2.92"/><line x1="735.24" y1="682.7" x2="754.98" y2="675.29" stroke-width="2.90"/><line x1="754.98" y1="675.29" x2="774.72" y2="672.18" stroke-width="3.06"/><line x1="774.72" y1="672.18" x2="794.46" y2="669.58" stroke-width="3.07"/><line x1="794.46" y1="669.58" x2="814.2" y2="667.2" stroke-width="3.08"/><line x1="814.2" y1="667.2" x2="833.94" y2="666.26" stroke-width="3.10"/><line x1="833.94" y1="666.26" x2="853.68" y2="664.2" stroke-width="3.08"/><line x1="853.68" y1="664.2" x2="873.42" y2="664.2" stroke-width="3.10"/><line x1="873.42" y1="664.2" x2="893.16" y2="662.1" stroke-width="3.08"/><line x1="893.16" y1="662.1" x2="912.9" y2="662.1" stroke-width="3.10"/><line x1="912.9" y1="662.1" x2="932.64" y2="660.58" stroke-width="3.09"/><line x1="932.64" y1="660.58" x2="952.38" y2="660.58" stroke-width="3.10"/><line x1="952.38" y1="660.58" x2="972.12" y2="658.31" stroke-width="3.08"/><line x1="972.12" y1="658.31" x2="991.86" y2="658.31" stroke-width="3.10"/></g>
<g stroke="#00ff00" stroke-linecap="round"><line x1="616.8" y1="635.54" x2="636.54" y2="620.36" stroke-width="2.46"/><line x1="636.54" y1="620.36" x2="656.28" y2="599.04" stroke-width="2.27"/><line x1="656.28" y1="599.04" x2="676.02" y2="584.95" stroke-width="2.52"/><line x1="676.02" y1="584.95" x2="695.76" y2="577.72" stroke-width="2.91"/><line x1="695.76" y1="577.72" x2="715.5" y2="572.3" stroke-width="2.99"/><line x1="715.5" y1="572.3" x2="735.24" y2="567.06" stroke-width="3.00"/><line x1="735.24" y1="567.06" x2="754.98" y2="563.45" stroke-width="3.05"/><line x1="754.98" y1="563.45" x2="774.72" y2="551.16" stroke-width="2.63"/><line x1="774.72" y1="551.16" x2="794.46" y2="544.66" stroke-width="2.94"/><line x1="794.46" y1="544.66" x2="814.2" y2="538.69" stroke-width="2.97"/><line x1="814.2" y1="538.69" x2="833.94" y2="531.46" stroke-width="2.91"/><line x1="833.94" y1="531.46" x2="853.68" y2="526.77" stroke-width="3.02"/><line x1="853.68" y1="526.77" x2="873.42" y2="522.43" stroke-width="3.03"/><line x1="873.42" y1="522.43" x2="893.16" y2="516.43" stroke-width="2.97"/><line x1="893.16" y1="516.43" x2="912.9" y2="509.42" stroke-width="2.92"/><line x1="912.9" y1="509.42" x2="932.64" y2="501.47" stroke-width="2.88"/><line x1="932.64" y1="501.47" x2="952.38" y2="494.42" stroke-width="2.92"/><line x1="952.38" y1="494.42" x2="972.12" y2="487.52" stroke-width="2.93"/><line x1="972.12" y1="487.52" x2="991.86" y2="480.33" stroke-width="2.91"/></g>
</g>
<path d="M610 708.18H623.6M616.8 701.38V714.98M612.9 704.28L620.7 712.08M612.9 712.08L620.7 704.28" stroke="#ff0000" stroke-width="2.8" fill="none"/><rect x="614" y="705.38" width="5.6" height="5.6" fill="#ff0000"/>
<path d="M629.74 708.18H643.34M636.54 701.38V714.98M632.64 704.28L640.44 712.08M632.64 712.08L640.44 704.28" stroke="#ff0000" stroke-width="2.8" fill="none"/><rect x="633.74" y="705.38" width="5.6" height="5.6" fill="#ff0000"/>
<path d="M649.48 708.18H663.08M656.28 701.38V714.98M652.38 704.28L660.18 712.08M652.38 712.08L660.18 704.28" stroke="#ff0000" stroke-width="2.8" fill="none"/><rect x="653.48" y="705.38" width="5.6" height="5.6" fill="#ff0000"/>
<path d="M669.22 707.45H682.82M676.02 700.65V714.25M672.12 703.55L679.92 711.35M672.12 711.35L679.92 703.55" stroke="#ff0000" stroke-width="2.8" fill="none"/><rect x="673.22" y="704.65" width="5.6" height="5.6" fill="#ff0000"/>
<path d="M688.96 696.79H702.56M695.76 689.99V703.59M691.86 692.89L699.66 700.69M691.86 700.69L699.66 692.89" stroke="#ff0000" stroke-width="2.8" fill="none"/><rect x="692.96" y="693.99" width="5.6" height="5.6" fill="#ff0000"/>
<path d="M708.7 689.75H722.3M715.5 682.95V696.55M711.6 685.85L719.4 693.65M711.6 693.65L719.4 685.85" stroke="#ff0000" stroke-width="2.8" fill="none"/><rect x="712.7" y="686.95" width="5.6" height="5.6" fill="#ff0000"/>
<path d="M728.44 682.7H742.04M735.24 675.9V689.5M731.34 678.8L739.14 686.6M731.34 686.6L739.14 678.8" stroke="#ff0000" stroke-width="2.8" fill="none"/><rect x="732.44" y="679.9" width="5.6" height="5.6" fill="#ff0000"/>
<path d="M748.18 675.29H761.78M754.98 668.49V682.09M751.08 671.39L758.88 679.19M751.08 679.19L758.88 671.39" stroke="#ff0000" stroke-width="2.8" fill="none"/><rect x="752.18" y="672.49" width="5.6" height="5.6" fill="#ff0000"/>
<path d="M767.92 672.18H781.52M774.72 665.38V678.98M770.82 668.28L778.62 676.08M770.82 676.08L778.62 668.28" stroke="#ff0000" stroke-width="2.8" fill="none"/><rect x="771.92" y="669.38" width="5.6" height="5.6" fill="#ff0000"/>
<path d="M787.66 669.58H801.26M794.46 662.78V676.38M790.56 665.68L798.36 673.48M790.56 673.48L798.36 665.68" stroke="#ff0000" stroke-width="2.8" fill="none"/><rect x="791.66" y="666.78" width="5.6" height="5.6" fill="#ff0000"/>
<path d="M807.4 667.2H821M814.2 660.4V674M810.3 663.3L818.1 671.1M810.3 671.1L818.1 663.3" stroke="#ff0000" stroke-width="2.8" fill="none"/><rect x="811.4" y="664.4" width="5.6" height="5.6" fill="#ff0000"/>
<path d="M827.14 666.26H840.74M833.94 659.46V673.06M830.04 662.36L837.84 670.16M830.04 670.16L837.84 662.36" stroke="#ff0000" stroke-width="2.8" fill="none"/><rect x="831.14" y="663.46" width="5.6" height="5.6" fill="#ff0000"/>
<path d="M846.88 664.2H860.48M853.68 657.4V671M849.78 660.3L857.58 668.1M849.78 668.1L857.58 660.3" stroke="#ff0000" stroke-width="2.8" fill="none"/><rect x="850.88" y="661.4" width="5.6" height="5.6" fill="#ff0000"/>
<path d="M866.62 664.2H880.22M873.42 657.4V671M869.52 660.3L877.32 668.1M869.52 668.1L877.32 660.3" stroke="#ff0000" stroke-width="2.8" fill="none"/><rect x="870.62" y="661.4" width="5.6" height="5.6" fill="#ff0000"/>
<path d="M886.36 662.1H899.96M893.16 655.3V668.9M889.26 658.2L897.06 666M889.26 666L897.06 658.2" stroke="#ff0000" stroke-width="2.8" fill="none"/><rect x="890.36" y="659.3" width="5.6" height="5.6" fill="#ff0000"/>
<path d="M906.1 662.1H919.7M912.9 655.3V668.9M909 658.2L916.8 666M909 666L916.8 658.2" stroke="#ff0000" stroke-width="2.8" fill="none"/><rect x="910.1" y="659.3" width="5.6" height="5.6" fill="#ff0000"/>
<path d="M925.84 660.58H939.44M932.64 653.78V667.38M928.74 656.68L936.54 664.48M928.74 664.48L936.54 656.68" stroke="#ff0000" stroke-width="2.8" fill="none"/><rect x="929.84" y="657.78" width="5.6" height="5.6" fill="#ff0000"/>
<path d="M945.58 660.58H959.18M952.38 653.78V667.38M948.48 656.68L956.28 664.48M948.48 664.48L956.28 656.68" stroke="#ff0000" stroke-width="2.8" fill="none"/><rect x="949.58" y="657.78" width="5.6" height="5.6" fill="#ff0000"/>
<path d="M965.32 658.31H978.92M972.12 651.51V665.11M968.22 654.41L976.02 662.21M968.22 662.21L976.02 654.41" stroke="#ff0000" stroke-width="2.8" fill="none"/><rect x="969.32" y="655.51" width="5.6" height="5.6" fill="#ff0000"/>
<path d="M985.06 658.31H998.66M991.86 651.51V665.11M987.96 654.41L995.76 662.21M987.96 662.21L995.76 654.41" stroke="#ff0000" stroke-width="2.8" fill="none"/><rect x="989.06" y="655.51" width="5.6" height="5.6" fill="#ff0000"/>
<path d="M610.5 634.74H624.1M616.8 628.74V642.34" stroke="#00ff00" stroke-width="2.8" fill="none"/>
<path d="M630.24 619.56H643.84M636.54 613.56V627.16" stroke="#00ff00" stroke-width="2.8" fill="none"/>
<path d="M649.98 598.24H663.58M656.28 592.24V605.84" stroke="#00ff00" stroke-width="2.8" fill="none"/>
<path d="M669.72 584.15H683.32M676.02 578.15V591.75" stroke="#00ff00" stroke-width="2.8" fill="none"/>
<path d="M689.46 576.92H703.06M695.76 570.92V584.52" stroke="#00ff00" stroke-width="2.8" fill="none"/>
<path d="M709.2 571.5H722.8M715.5 565.5V579.1" stroke="#00ff00" stroke-width="2.8" fill="none"/>
<path d="M728.94 566.26H742.54M735.24 560.26V573.86" stroke="#00ff00" stroke-width="2.8" fill="none"/>
<path d="M748.68 562.65H762.28M754.98 556.65V570.25" stroke="#00ff00" stroke-width="2.8" fill="none"/>
<path d="M768.42 550.36H782.02M774.72 544.36V557.96" stroke="#00ff00" stroke-width="2.8" fill="none"/>
<path d="M788.16 543.86H801.76M794.46 537.86V551.46" stroke="#00ff00" stroke-width="2.8" fill="none"/>
<path d="M807.9 537.89H821.5M814.2 531.89V545.49" stroke="#00ff00" stroke-width="2.8" fill="none"/>
<path d="M827.64 530.66H841.24M833.94 524.66V538.26" stroke="#00ff00" stroke-width="2.8" fill="none"/>
<path d="M847.38 525.97H860.98M853.68 519.97V533.57" stroke="#00ff00" stroke-width="2.8" fill="none"/>
<path d="M867.12 521.63H880.72M873.42 515.63V529.23" stroke="#00ff00" stroke-width="2.8" fill="none"/>
<path d="M886.86 515.63H900.46M893.16 509.63V523.23" stroke="#00ff00" stroke-width="2.8" fill="none"/>
<path d="M906.6 508.62H920.2M912.9 502.62V516.22" stroke="#00ff00" stroke-width="2.8" fill="none"/>
<path d="M926.34 500.67H939.94M932.64 494.67V508.27" stroke="#00ff00" stroke-width="2.8" fill="none"/>
<path d="M946.08 493.62H959.68M952.38 487.62V501.22" stroke="#00ff00" stroke-width="2.8" fill="none"/>
<path d="M965.82 486.72H979.42M972.12 480.72V494.32" stroke="#00ff00" stroke-width="2.8" fill="none"/>
<path d="M985.56 479.53H999.16M991.86 473.53V487.13" stroke="#00ff00" stroke-width="2.8" fill="none"/>
<rect x="613.9" y="419.8" width="395.1" height="289.1" fill="none" stroke="#000000" stroke-width="1.5"/>
<text x="607.1" y="714.8" font-size="20" text-anchor="end">0</text>
<text x="607.1" y="642.52" font-size="20" text-anchor="end">0.2</text>
<text x="607.1" y="570.25" font-size="20" text-anchor="end">0.4</text>
<text x="607.1" y="497.98" font-size="20" text-anchor="end">0.6</text>
<text x="607.1" y="425.7" font-size="20" text-anchor="end">0.8</text>
<text x="612.5" y="731.7" font-size="20" text-anchor="middle">0</text>
<text x="691.52" y="731.7" font-size="20" text-anchor="middle">0.2</text>
<text x="770.54" y="731.7" font-size="20" text-anchor="middle">0.4</text>
<text x="849.56" y="731.7" font-size="20" text-anchor="middle">0.6</text>
<text x="928.58" y="731.7" font-size="20" text-anchor="middle">0.8</text>
<path d="M1008.9 732V717.6L1004.3 721.2" stroke="#000" stroke-width="1.6" fill="none" stroke-linejoin="miter"/>
<text x="163.4" y="354.5" font-size="19.5" text-anchor="start" textLength="237.63" lengthAdjust="spacingAndGlyphs">Probability of false alarm (P</text>
<text x="401.28" y="363.75" font-size="16" text-anchor="start">f</text>
<text x="407.38" y="354.5" font-size="19.5" text-anchor="start">)</text>
<text x="682.6" y="354.5" font-size="19.5" text-anchor="start" textLength="237.63" lengthAdjust="spacingAndGlyphs">Probability of false alarm (P</text>
<text x="920.48" y="363.75" font-size="16" text-anchor="start">f</text>
<text x="926.58" y="354.5" font-size="19.5" text-anchor="start">)</text>
<text x="164.3" y="757.3" font-size="19.5" text-anchor="start" textLength="237.63" lengthAdjust="spacingAndGlyphs">Probability of false alarm (P</text>
<text x="402.18" y="766.55" font-size="16" text-anchor="start">f</text>
<text x="408.28" y="757.3" font-size="19.5" text-anchor="start">)</text>
<text x="682.9" y="757.3" font-size="19.5" text-anchor="start" textLength="237.63" lengthAdjust="spacingAndGlyphs">Probability of false alarm (P</text>
<text x="920.78" y="766.55" font-size="16" text-anchor="start">f</text>
<text x="926.88" y="757.3" font-size="19.5" text-anchor="start">)</text>
<g transform="translate(27.1,281.6) rotate(-90)">
<text x="0" y="0" font-size="19.5" text-anchor="start" textLength="222.63" lengthAdjust="spacingAndGlyphs">Probability of detection (P</text>
<text x="221.23" y="10.9" font-size="16" text-anchor="start">d</text>
<text x="230.78" y="0" font-size="19.5" text-anchor="start">)</text>
</g>
<g transform="translate(546,282.2) rotate(-90)">
<text x="0" y="0" font-size="19.5" text-anchor="start" textLength="222.63" lengthAdjust="spacingAndGlyphs">Probability of detection (P</text>
<text x="221.23" y="10.9" font-size="16" text-anchor="start">d</text>
<text x="230.78" y="0" font-size="19.5" text-anchor="start">)</text>
</g>
<g transform="translate(27,684.3) rotate(-90)">
<text x="0" y="0" font-size="19.5" text-anchor="start" textLength="222.63" lengthAdjust="spacingAndGlyphs">Probability of detection (P</text>
<text x="221.23" y="10.9" font-size="16" text-anchor="start">d</text>
<text x="230.78" y="0" font-size="19.5" text-anchor="start">)</text>
</g>
<g transform="translate(555.8,684.6) rotate(-90)">
<text x="0" y="0" font-size="19.5" text-anchor="start" textLength="222.63" lengthAdjust="spacingAndGlyphs">Probability of detection (P</text>
<text x="221.23" y="10.9" font-size="16" text-anchor="start">d</text>
<text x="230.78" y="0" font-size="19.5" text-anchor="start">)</text>
</g>
<text x="283.91" y="386.1" font-size="22.5" text-anchor="start">(</text>
<text x="291.51" y="386.1" font-size="18.8" text-anchor="start">a</text>
<text x="304.17" y="386.1" font-size="22.5" text-anchor="start">)</text>
<text x="800.86" y="387.4" font-size="22.5" text-anchor="start">(</text>
<text x="808.57" y="387.4" font-size="22.0" text-anchor="start">b</text>
<text x="821.66" y="387.4" font-size="22.5" text-anchor="start">)</text>
<text x="277.61" y="787" font-size="22.5" text-anchor="start">(</text>
<text x="286.01" y="787" font-size="18.8" text-anchor="start">c</text>
<text x="296.97" y="787" font-size="22.5" text-anchor="start">)</text>
<text x="802.5" y="785.2" font-size="22.5" text-anchor="start">(</text>
<text x="810.08" y="785.2" font-size="22.0" text-anchor="start">d</text>
<text x="823.07" y="785.2" font-size="22.5" text-anchor="start">)</text>
<rect x="114.4" y="226.1" width="363.7" height="68.2" fill="#fff" stroke="#000" stroke-width="1.3"/>
<path d="M125.8 241.7H186.9" stroke="#ff0000" stroke-width="2.6"/>
<ellipse cx="155.6" cy="242.4" rx="4.6" ry="6.6" fill="#ff0000"/>
<path d="M125.8 273.2H186.9" stroke="#00ff00" stroke-width="2.7"/>
<path d="M155.6 266.9V280.6" stroke="#00ff00" stroke-width="3.2"/>
<text x="191.2" y="250.8" font-size="19.5" text-anchor="start" textLength="137.41" lengthAdjust="spacingAndGlyphs">Energy detector</text>
<text x="191.2" y="284.5" font-size="19.5" text-anchor="start" textLength="271.68" lengthAdjust="spacingAndGlyphs">Entropy detector with optimal N</text>
<text x="462.54" y="275.5" font-size="16" text-anchor="start">*</text>
</svg></body></html>
